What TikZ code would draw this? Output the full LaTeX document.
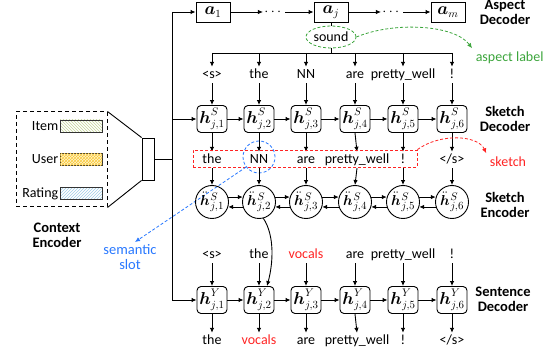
\documentclass[tikz,border=0pt]{standalone}
\usepackage{amsmath}
\usepackage[no-math]{fontspec}
\setmainfont{Carlito}
\usetikzlibrary{arrows.meta,patterns,shapes.geometric,calc}
\definecolor{myred}{RGB}{255,35,35}
\definecolor{mygreen}{RGB}{60,165,60}
\definecolor{myblue}{RGB}{40,120,255}
\definecolor{itemc}{RGB}{196,212,150}
\definecolor{userc}{RGB}{250,200,60}
\definecolor{userbg}{RGB}{255,246,205}
\definecolor{ratec}{RGB}{160,205,232}
\newcommand{\hdd}[1]{\ddot{{\boldsymbol{h}}}\mkern1mu{}^{S}_{j,#1}}
\begin{document}
\begin{tikzpicture}[x=1pt,y=1pt,font=\fontsize{14}{16}\selectfont,
  >={Latex[length=5pt,width=4.5pt]}, line width=0.9pt,
  hbox/.style={draw, rounded corners=4pt, minimum width=30pt, minimum height=27pt, inner sep=0pt, font=\fontsize{16}{18}\selectfont},
  abox/.style={draw, minimum width=34pt, minimum height=20pt, inner sep=0pt, font=\fontsize{16}{18}\selectfont},
  hcirc/.style={draw, circle, minimum size=33pt, inner sep=0pt, font=\fontsize{15}{17}\selectfont},
  tok/.style={inner sep=1pt, text height=10.5pt, text depth=3pt},
  lab/.style={font=\fontsize{14.5}{15}\selectfont\bfseries, align=center},
  swatch/.style={draw=black!80, line width=0.7pt, minimum width=42pt, minimum height=12pt, inner sep=0pt},
  rdash/.style={myred, dashed, line width=0.8pt, dash pattern=on 3pt off 2pt},
  gdash/.style={mygreen, dashed, line width=0.8pt, dash pattern=on 3pt off 2pt},
  bdash/.style={myblue, dashed, line width=0.8pt, dash pattern=on 3pt off 2pt}
]
\useasboundingbox (0,0) rectangle (559,356);

% ---------- Aspect decoder ----------
\node[abox] (a1) at (213,344) {$\boldsymbol{a}_1$};
\node[abox] (aj) at (331,344) {$\boldsymbol{a}_j$};
\node[abox] (am) at (448,344) {$\boldsymbol{a}_m$};
\node[inner sep=1pt] (d1) at (274,344) {$\cdots$};
\node[inner sep=1pt] (d2) at (392,344) {$\cdots$};
\draw[->] (a1.east) -- (d1.west);
\draw[->] (d1.east) -- (aj.west);
\draw[->] (aj.east) -- (d2.west);
\draw[->] (d2.east) -- (am.west);
\node[lab] at (505,344) {Aspect\\Decoder};

\node[ellipse, draw=mygreen, dashed, dash pattern=on 3pt off 2pt, line width=0.8pt, minimum width=50pt, minimum height=22pt, inner sep=0pt] (sound) at (331,319) {sound};
\draw (aj.south) -- (sound.north);
\coordinate (barc) at (331,303);
\draw (sound.south) -- (barc);
\coordinate (barL) at (212,303);
\coordinate (barR) at (452,303);
\draw (barL) -- (barR);

\node[anchor=west, text=mygreen] (aspl) at (472,298) {aspect label};
\draw[gdash,->] (sound.east) .. controls (395,335) and (455,331) .. (aspl.north west);

% columns
\def\cA{212}\def\cB{259}\def\cC{306}\def\cD{355}\def\cE{403}\def\cF{452}

% ---------- Sketch decoder ----------
\node[tok] (t1) at (\cA,281) {<s>};
\node[tok] (t2) at (\cB,281) {the};
\node[tok] (t3) at (\cC,281) {NN};
\node[tok] (t4) at (\cD,281) {are};
\node[tok] (t5) at (\cE,281) {pretty\_well};
\node[tok] (t6) at (\cF,281) {!};
\foreach \i/\x in {1/\cA,2/\cB,3/\cC,4/\cD,5/\cE,6/\cF}{
  \draw[->] (\x,303) -- (t\i.north);
}
\node[hbox] (hs1) at (\cA,237) {$\boldsymbol{h}^{S}_{j,1}$};
\node[hbox] (hs2) at (\cB,237) {$\boldsymbol{h}^{S}_{j,2}$};
\node[hbox] (hs3) at (\cC,237) {$\boldsymbol{h}^{S}_{j,3}$};
\node[hbox] (hs4) at (\cD,237) {$\boldsymbol{h}^{S}_{j,4}$};
\node[hbox] (hs5) at (\cE,237) {$\boldsymbol{h}^{S}_{j,5}$};
\node[hbox] (hs6) at (\cF,237) {$\boldsymbol{h}^{S}_{j,6}$};
\foreach \i in {1,...,6}{ \draw[->] (t\i.south) -- (hs\i.north); }
\foreach \i/\j in {1/2,2/3,3/4,4/5,5/6}{ \draw[->] (hs\i.east) -- (hs\j.west); }
\node[lab] at (505,237) {Sketch\\Decoder};

% sketch tokens
\node[tok] (s1) at (\cA,196) {the};
\node[tok] (s2) at (\cB,196) {NN};
\node[tok] (s3) at (\cC,196) {are};
\node[tok] (s4) at (357,196) {pretty\_well};
\node[tok] (s5) at (\cE,196) {!};
\node[tok] (s6) at (\cF,196) {</s>};
\foreach \i in {1,...,6}{ \draw[->] (hs\i.south) -- (s\i.north); }
\node[draw=myred, dashed, dash pattern=on 3pt off 2pt, line width=0.8pt, minimum width=224pt, minimum height=17pt, inner sep=0pt] (skbox) at (305,197.5) {};
\node[text=myred] (skl) at (508,194) {sketch};
\draw[rdash,->] (skbox.north east) .. controls (440,223) and (478,221) .. (skl.north west);

\node[circle, draw=myblue, dashed, dash pattern=on 3pt off 2pt, line width=0.8pt, minimum size=32pt, inner sep=0pt] (slot) at (\cB,199) {};
\node[text=myblue, align=center, font=\fontsize{14.5}{15.5}\selectfont] (slotl) at (130,99) {semantic\\slot};
\coordinate (slotarr) at (135,114);
\draw[bdash,->] (slot.218) -- (slotarr);

% ---------- Sketch encoder ----------
\node[hcirc] (e1) at (\cA,154) {$\hdd{1}$};
\node[hcirc] (e2) at (\cB,154) {$\hdd{2}$};
\node[hcirc] (e3) at (\cC,154) {$\hdd{3}$};
\node[hcirc] (e4) at (\cD,154) {$\hdd{4}$};
\node[hcirc] (e5) at (\cE,154) {$\hdd{5}$};
\node[hcirc] (e6) at (\cF,154) {$\hdd{6}$};
\foreach \i in {1,...,6}{ \draw[->] (s\i.south) -- (e\i.north); }
\foreach \i/\j in {1/2,2/3,3/4,4/5,5/6}{
  \draw[->] (e\i.17) -- (e\j.163);
  \draw[->] (e\j.197) -- (e\i.343);
}
\node[lab] at (505,151) {Sketch\\Encoder};

% ---------- Sentence decoder ----------
\node[tok] (u1) at (\cA,101) {<s>};
\node[tok] (u2) at (\cB,101) {the};
\node[tok, text=myred] (u3) at (\cC,101) {vocals};
\node[tok] (u4) at (\cD,101) {are};
\node[tok] (u5) at (\cE,101) {pretty\_well};
\node[tok] (u6) at (\cF,101) {!};
\node[hbox] (hy1) at (\cA,56) {$\boldsymbol{h}^{Y}_{j,1}$};
\node[hbox] (hy2) at (\cB,56) {$\boldsymbol{h}^{Y}_{j,2}$};
\node[hbox] (hy3) at (\cC,56) {$\boldsymbol{h}^{Y}_{j,3}$};
\node[hbox] (hy4) at (\cD,56) {$\boldsymbol{h}^{Y}_{j,4}$};
\node[hbox] (hy5) at (\cE,56) {$\boldsymbol{h}^{Y}_{j,5}$};
\node[hbox] (hy6) at (\cF,56) {$\boldsymbol{h}^{Y}_{j,6}$};
\foreach \i in {1,...,6}{ \draw[->] (u\i.south) -- (hy\i.north); }
\foreach \i/\j in {1/2,2/3,3/4,4/5,5/6}{ \draw[->] (hy\i.east) -- (hy\j.west); }
\node[tok] (o1) at (\cA,15) {the};
\node[tok, text=myred] (o2) at (\cB,15) {vocals};
\node[tok] (o3) at (\cC,15) {are};
\node[tok] (o4) at (357,15) {pretty\_well};
\node[tok] (o5) at (\cE,15) {!};
\node[tok] (o6) at (\cF,15) {</s>};
\foreach \i in {1,...,6}{ \draw[->] (hy\i.south) -- (o\i.north); }
\node[lab] at (503,57) {Sentence\\Decoder};

\draw[->] (e2.285) .. controls (275,120) and (273,92) .. ([xshift=8pt]hy2.north);

% ---------- Context encoder ----------
\node[draw, dashed, dash pattern=on 4pt off 3pt, line width=1pt, minimum width=91pt, minimum height=95pt, inner sep=0pt] (ctx) at (61.5,196.5) {};
\node[swatch, pattern=north west lines, pattern color=itemc] (sw1) at (81,230) {};
\node[swatch, fill=userbg, postaction={pattern=crosshatch, pattern color=userc}] (sw2) at (81,196.5) {};
\node[swatch, pattern=north east lines, pattern color=ratec] (sw3) at (81,162.5) {};
\node[anchor=east, inner sep=1pt] at (sw1.west) {Item};
\node[anchor=east, inner sep=1pt] at (sw2.west) {User};
\node[anchor=east, inner sep=1pt] at (sw3.west) {Rating};
\node[draw, minimum width=12pt, minimum height=42pt, inner sep=0pt] (ctxbar) at (148,197) {};
\draw (ctx.north east) -- (ctxbar.north west);
\draw (ctx.south east) -- (ctxbar.south west);
\node[lab] at (57,121) {Context\\Encoder};

% spine
\coordinate (spT) at (172,344);
\coordinate (spM) at (172,237);
\coordinate (spC) at (172,197);
\coordinate (spB) at (172,56);
\draw (spT) -- (spB);
\draw (ctxbar.east) -- (spC);
\draw[->] (spT) -- (a1.west);
\draw[->] (spM) -- (hs1.west);
\draw[->] (spB) -- (hy1.west);
\end{tikzpicture}
\end{document}
